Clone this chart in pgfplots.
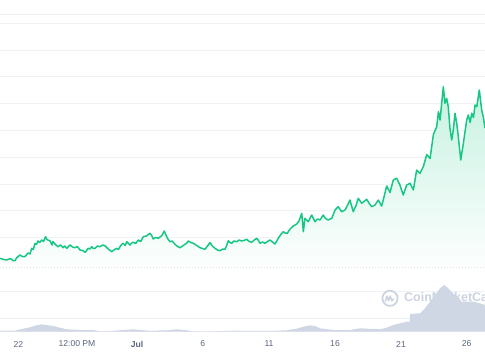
\documentclass[border=0pt]{standalone}
\usepackage{pgfplots}
\pgfplotsset{compat=1.18}
\usepackage{pgfplotstable}
\usepackage{fontspec}
\setmainfont{Liberation Sans}
\definecolor{cmcgreen}{HTML}{16C784}
\definecolor{gridc}{HTML}{EFF2F5}
\definecolor{volc}{HTML}{CFD6E4}
\definecolor{tickc}{HTML}{58667E}
\definecolor{wmc}{HTML}{CCD3E0}
\definecolor{dotc}{HTML}{A6B0C3}

\pgfplotstableread{
d p
-1.38 9.2
-1.10 8.0
-0.87 7.5
-0.60 9.0
-0.40 7.0
-0.25 6.8
-0.12 9.8
0.13 12.5
0.30 11.0
0.50 10.8
0.73 14.5
0.88 13.5
1.01 19.2
1.13 18.0
1.26 24.2
1.37 23.0
1.48 26.5
1.62 25.0
1.76 27.5
1.90 26.0
2.06 30.8
2.15 28.0
2.24 27.5
2.40 26.5
2.54 22.5
2.61 25.8
2.80 23.0
2.99 20.8
3.18 22.5
3.37 19.8
3.50 21.5
3.65 19.2
3.78 21.0
3.90 22.5
4.08 20.5
4.27 19.8
4.45 21.0
4.65 17.5
4.85 17.0
5.03 15.2
5.15 17.0
5.25 19.2
5.40 18.5
5.53 20.8
5.65 19.0
5.78 19.2
5.97 21.5
6.16 20.8
6.35 22.5
6.53 21.8
6.78 18.5
7.04 15.8
7.20 17.5
7.42 19.2
7.55 18.0
7.66 20.8
7.78 23.0
7.91 24.2
8.05 22.0
8.17 25.8
8.30 24.0
8.42 22.5
8.55 24.5
8.67 25.2
8.85 24.0
9.04 27.5
9.22 26.0
9.42 30.8
9.65 31.5
9.92 34.2
10.05 32.0
10.17 28.5
10.35 30.0
10.55 29.2
10.68 30.5
10.81 31.8
11.00 36.5
11.18 30.8
11.30 28.0
11.43 25.8
11.60 26.5
11.81 23.2
12.00 21.0
12.19 19.8
12.38 21.5
12.56 23.2
12.70 24.5
12.81 26.5
13.00 25.0
13.19 24.2
13.45 22.0
13.69 19.8
13.88 19.0
14.07 18.2
14.25 21.5
14.45 24.8
14.62 21.5
14.82 19.2
15.00 17.5
15.20 16.8
15.40 18.5
15.58 18.2
15.70 22.0
15.83 26.8
15.95 25.0
16.08 24.2
16.25 26.5
16.46 25.8
16.65 27.5
16.83 26.5
17.00 27.0
17.21 28.2
17.40 26.0
17.59 25.2
17.78 27.5
17.97 29.2
18.10 27.0
18.21 24.2
18.40 25.5
18.59 24.2
18.78 26.0
18.97 27.5
19.15 25.5
19.34 23.5
19.45 26.0
19.59 29.2
19.78 33.0
19.97 35.8
20.10 34.5
20.27 34.2
20.38 36.5
20.48 38.5
20.72 41.5
20.98 43.5
21.15 46.5
21.36 54.2
21.48 35.8
21.60 49.2
21.85 45.8
22.11 52.5
22.36 45.8
22.55 48.5
22.74 47.5
22.98 52.5
23.15 49.0
23.36 47.5
23.62 49.2
23.87 57.5
24.11 60.8
24.37 55.8
24.62 57.5
24.80 62.0
24.99 67.5
25.24 55.8
25.45 62.0
25.62 69.2
25.88 64.2
26.05 66.0
26.25 68.2
26.45 64.0
26.63 60.8
26.88 62.5
27.13 67.5
27.38 61.5
27.55 70.0
27.76 81.5
28.01 75.0
28.26 87.5
28.51 89.2
28.76 82.5
29.01 72.5
29.15 78.0
29.27 82.5
29.52 84.2
29.77 77.5
30.02 97.5
30.27 94.2
30.52 100.8
30.78 113.0
31.03 109.0
31.28 133.0
31.53 140.8
31.66 155.8
31.78 147.5
32.03 180.8
32.15 164.2
32.28 169.2
32.40 160.8
32.53 139.2
32.66 127.5
32.78 137.5
32.91 154.2
33.04 144.2
33.16 130.8
33.34 107.5
33.54 124.2
33.79 147.5
33.91 152.5
34.05 145.0
34.17 154.2
34.30 150.0
34.42 162.5
34.55 160.8
34.74 177.5
34.92 157.5
35.05 150.0
35.17 139.5
}\price

\pgfplotstableread{
d v
-1.38 1.0
-0.25 1.0
0.13 2.4
0.88 4.4
1.26 6.0
1.76 7.4
2.14 6.7
2.64 5.7
3.14 4.0
3.65 2.4
4.65 1.7
5.65 1.7
6.16 0.4
6.91 0.7
7.91 1.7
8.67 2.4
9.17 1.7
9.92 1.0
11.18 1.4
11.94 2.4
12.56 1.7
13.19 0.4
14.69 0.4
16.20 1.0
18.72 0.7
20.23 1.4
20.98 3.0
21.48 5.0
21.98 6.4
22.36 5.7
22.74 3.4
23.74 1.7
25.00 1.7
25.75 3.4
26.25 3.0
27.26 2.4
27.76 4.0
28.26 6.7
28.76 8.4
29.27 10.0
29.48 10.0
29.52 17.7
30.27 18.4
30.65 23.4
31.03 30.0
31.40 36.7
31.78 43.4
32.11 46.7
32.40 43.4
32.78 38.4
33.16 33.4
33.42 30.0
33.79 30.0
34.29 30.0
34.79 28.4
35.17 26.7
}\volume

\begin{document}
\begin{tikzpicture}
\begin{axis}[name=ax, at={(0,0)}, anchor=south west,
  width=485pt, height=360pt, scale only axis,
  xmin=-1.379, xmax=35.17, ymin=-92.5, ymax=267.5,
  axis line style={draw=none}, major tick length=0pt,
  ytick={253.2,244.2,217.5,190.8,164.2,137.5,110.2,83.5,56.8,30.2,-23.5,-50.5,-64.2},
  yticklabel=\empty, ymajorgrids,
  major grid style={gridc, line width=0.9pt},
  xtick={0,4.42,8.945,13.896,18.892,23.866,28.84,33.79},
  xticklabels={22,12:00 PM,\textbf{Jul},6,11,16,21,26},
  xticklabel style={anchor=center, yshift=16pt, font=\fontsize{8.6}{10}\selectfont, text=tickc},
]
\draw[dotc, line width=0.8pt, dash pattern=on 0.8pt off 2.2pt] (rel axis cs:0,0.2569) -- (rel axis cs:1,0.2569);
% watermark
\draw[wmc, line width=1.7pt] (axis cs:28.01,-30.8) circle[radius=7.6pt];
\draw[wmc, line width=1.5pt, line cap=round, line join=round] (axis cs:28.01,-30.8) ++(-4.6pt,-2.8pt) -- ++(1.6pt,5pt) -- ++(1.6pt,-4.6pt) -- ++(1.6pt,4.6pt) -- ++(1.6pt,-4.6pt) -- ++(1.8pt,1.8pt);
\node[wmc, font=\fontsize{12.5}{15}\selectfont\bfseries, anchor=west, inner sep=0pt] at (axis cs:29.06,-30.8) {CoinMarketCap};
\addplot[draw=none, top color=cmcgreen!24!white, bottom color=cmcgreen!1!white] table[x=d,y=p]{\price} \closedcycle;
\addplot[cmcgreen, line width=1.5pt, line join=round] table[x=d,y=p]{\price};
\end{axis}
\begin{axis}[at={(0,0)}, anchor=south west,
  width=485pt, height=360pt, scale only axis,
  xmin=-1.379, xmax=35.17, ymin=-28.3, ymax=331.7, hide axis]
\addplot[draw=none, fill=volc] table[x=d,y=v]{\volume} \closedcycle;
\end{axis}
\pgfresetboundingbox
\path[use as bounding box] (ax.south west) rectangle (ax.north east);
\end{tikzpicture}
\end{document}
